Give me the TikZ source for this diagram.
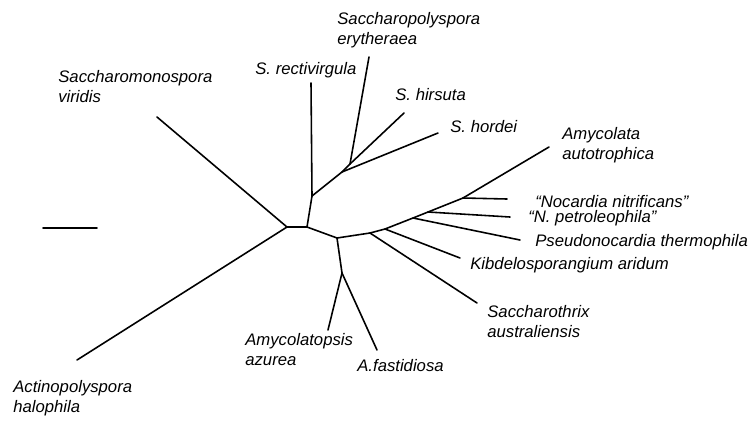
\documentclass[tikz,border=0pt]{standalone}
\usepackage{fontspec}
\setmainfont{Liberation Sans}
\usetikzlibrary{positioning}

\tikzset{
  taxon/.style={anchor=west, align=left, inner sep=0pt, font=\fontsize{9.5}{11.4}\selectfont\itshape},
  branch/.style={line width=0.9pt, line join=round, line cap=round}
}

\begin{document}
\begin{tikzpicture}[x=0.02cm, y=-0.02cm]
    \useasboundingbox (0,0) rectangle (754,420);

    % internal nodes of the tree
    \coordinate (n0) at (287,227);
    \coordinate (n1) at (307,227);
    \coordinate (n2) at (312,196);
    \coordinate (n3) at (342,172);
    \coordinate (n4) at (350,164);
    \coordinate (n5) at (337,238);
    \coordinate (n6) at (342,273);
    \coordinate (n7) at (370,233);
    \coordinate (n8) at (385,229);
    \coordinate (n9) at (413,218);
    \coordinate (n10) at (428,212);
    \coordinate (n11) at (463,198);

    % tips
    \coordinate (tviridis) at (157,117);
    \coordinate (thalo) at (77,360);
    \coordinate (trecti) at (311,83);
    \coordinate (thordei) at (438,133);
    \coordinate (thirsuta) at (404,113);
    \coordinate (teryth) at (369,57);
    \coordinate (tazurea) at (328,330);
    \coordinate (tfastid) at (377,350);
    \coordinate (taustr) at (477,303);
    \coordinate (tkibd) at (460,258);
    \coordinate (tthermo) at (520,240);
    \coordinate (tpetro) at (510,217);
    \coordinate (tnitri) at (507,199);
    \coordinate (tauto) at (549,147);

    % labels
    \node[taxon] (eryth) at (337,30) {Saccharopolyspora\\erytheraea};
    \node[taxon] (recti) at (255,70) {S. rectivirgula};
    \node[taxon] (hirsuta) at (395,95) {S. hirsuta};
    \node[taxon] (hordei) at (450,127) {S. hordei};
    \node[taxon] (viridis) at (58,87) {Saccharomonospora\\viridis};
    \node[taxon] (auto) at (562,145) {Amycolata\\autotrophica};
    \node[taxon] (nitri) at (535,202) {``Nocardia nitrificans''};
    \node[taxon] (petro) at (528,218) {``N. petroleophila''};
    \node[taxon] (thermo) at (535,242) {Pseudonocardia thermophila};
    \node[taxon] (kibd) at (470,265) {Kibdelosporangium aridum};
    \node[taxon] (austr) at (487,322) {Saccharothrix\\australiensis};
    \node[taxon] (azurea) at (245,350) {Amycolatopsis\\azurea};
    \node[taxon] (fastid) at (357,366) {A.fastidiosa};
    \node[taxon] (halo) at (13,398) {Actinopolyspora\\halophila};

    % scale bar
    \coordinate (s0) at (43,228);
    \coordinate (s1) at (97,228);
    \draw[branch] (s0) -- (s1);

    % branches
    \draw[branch] (tviridis) -- (n0);
    \draw[branch] (thalo) -- (n0);
    \draw[branch] (n0) -- (n1);
    \draw[branch] (n1) -- (n2);
    \draw[branch] (n2) -- (trecti);
    \draw[branch] (n2) -- (n3);
    \draw[branch] (n3) -- (thordei);
    \draw[branch] (n3) -- (n4);
    \draw[branch] (n4) -- (thirsuta);
    \draw[branch] (n4) -- (teryth);
    \draw[branch] (n1) -- (n5);
    \draw[branch] (n5) -- (n6);
    \draw[branch] (n6) -- (tazurea);
    \draw[branch] (n6) -- (tfastid);
    \draw[branch] (n5) -- (n7);
    \draw[branch] (n7) -- (taustr);
    \draw[branch] (n7) -- (n8);
    \draw[branch] (n8) -- (tkibd);
    \draw[branch] (n8) -- (n9);
    \draw[branch] (n9) -- (tthermo);
    \draw[branch] (n9) -- (n10);
    \draw[branch] (n10) -- (tpetro);
    \draw[branch] (n10) -- (n11);
    \draw[branch] (n11) -- (tnitri);
    \draw[branch] (n11) -- (tauto);
\end{tikzpicture}
\end{document}
